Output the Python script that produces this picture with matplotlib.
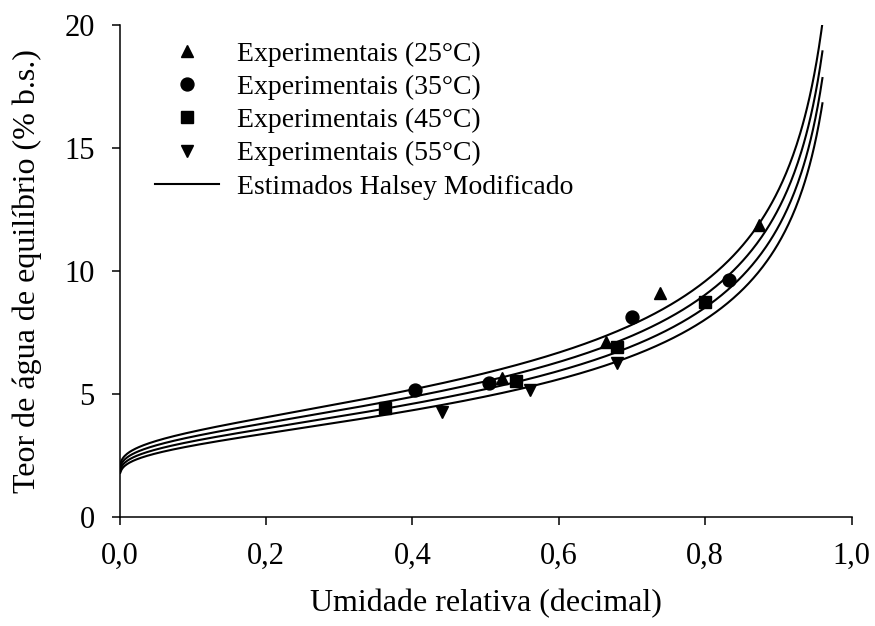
import numpy as np
import matplotlib
matplotlib.use("Agg")
import matplotlib.pyplot as plt
from matplotlib.ticker import FuncFormatter

plt.rcParams['font.family'] = ['Liberation Serif', 'DejaVu Serif']
plt.rcParams['mathtext.fontset'] = 'stix'

# Experimental equilibrium moisture content (% d.b.) vs. water activity
aw_25 = [0.522, 0.664, 0.738, 0.873]
x_25 = [5.67, 7.14, 9.10, 11.88]
aw_35 = [0.403, 0.504, 0.700, 0.833]
x_35 = [5.18, 5.47, 8.12, 9.63]
aw_45 = [0.363, 0.542, 0.680, 0.799]
x_45 = [4.45, 5.55, 6.94, 8.73]
aw_55 = [0.440, 0.560, 0.679]
x_55 = [4.29, 5.18, 6.29]

temperatures = [25, 35, 45, 55]

# Modified Halsey model: Xe = [exp(a + b*T) / (-ln aw)]^(1/c)
halsey_a = 4.041
halsey_b = -0.01359
halsey_c = 2.30
aw_min, aw_max = 0.001, 0.96

x_ticks = [0.0, 0.2, 0.4, 0.6, 0.8, 1.0]
y_ticks = [0, 5, 10, 15, 20]

fig = plt.figure(figsize=(8.75, 6.26), dpi=100)
ax = fig.add_axes([0.1366, 0.1736, 0.8368, 0.7864])

fs_leg = 20
fs_tick = 22
fs_label = 23
ms = 9.3

aw_curve = np.linspace(aw_min, aw_max, 600)
for i, T in enumerate(temperatures):
    xe = (np.exp(halsey_a + halsey_b * T) / (-np.log(aw_curve))) ** (1.0 / halsey_c)
    ax.plot(aw_curve, xe, color='black', lw=1.5,
            label='Estimados Halsey Modificado' if i == 0 else None, zorder=2)

ax.plot(aw_25, x_25, ls='none', marker='^', ms=ms, color='black',
        label='Experimentais (25°C)', zorder=3)
ax.plot(aw_35, x_35, ls='none', marker='o', ms=ms, color='black',
        label='Experimentais (35°C)', zorder=3)
ax.plot(aw_45, x_45, ls='none', marker='s', ms=ms - 0.5, color='black',
        label='Experimentais (45°C)', zorder=3)
ax.plot(aw_55, x_55, ls='none', marker='v', ms=ms, color='black',
        label='Experimentais (55°C)', zorder=3)

ax.set_xlim(0, 1.0)
ax.set_ylim(0, 20)
ax.set_xticks(x_ticks)
ax.set_yticks(y_ticks)
ax.xaxis.set_major_formatter(FuncFormatter(lambda v, p: f"{v:.1f}".replace('.', ',')))
ax.yaxis.set_major_formatter(FuncFormatter(lambda v, p: f"{v:.0f}"))

for side in ['top', 'right']:
    ax.spines[side].set_visible(False)
for side in ['left', 'bottom']:
    ax.spines[side].set_linewidth(1.1)
ax.tick_params(direction='out', length=6, width=1.1, labelsize=fs_tick)
ax.tick_params(axis='x', pad=12)
ax.tick_params(axis='y', pad=12)

ax.set_xlabel('Umidade relativa (decimal)', fontsize=fs_label, labelpad=13)
ax.set_ylabel('Teor de água de equilíbrio (% b.s.)', fontsize=fs_label, labelpad=16)

handles, labels = ax.get_legend_handles_labels()
order = [1, 2, 3, 4, 0]
leg = ax.legend([handles[k] for k in order], [labels[k] for k in order],
                loc='upper left', bbox_to_anchor=(0.049, 0.967), frameon=False,
                fontsize=fs_leg, handlelength=2.3, handletextpad=0.65,
                labelspacing=0.28, borderaxespad=0, borderpad=0)

fig.savefig('out.png', dpi=100, facecolor='white')
